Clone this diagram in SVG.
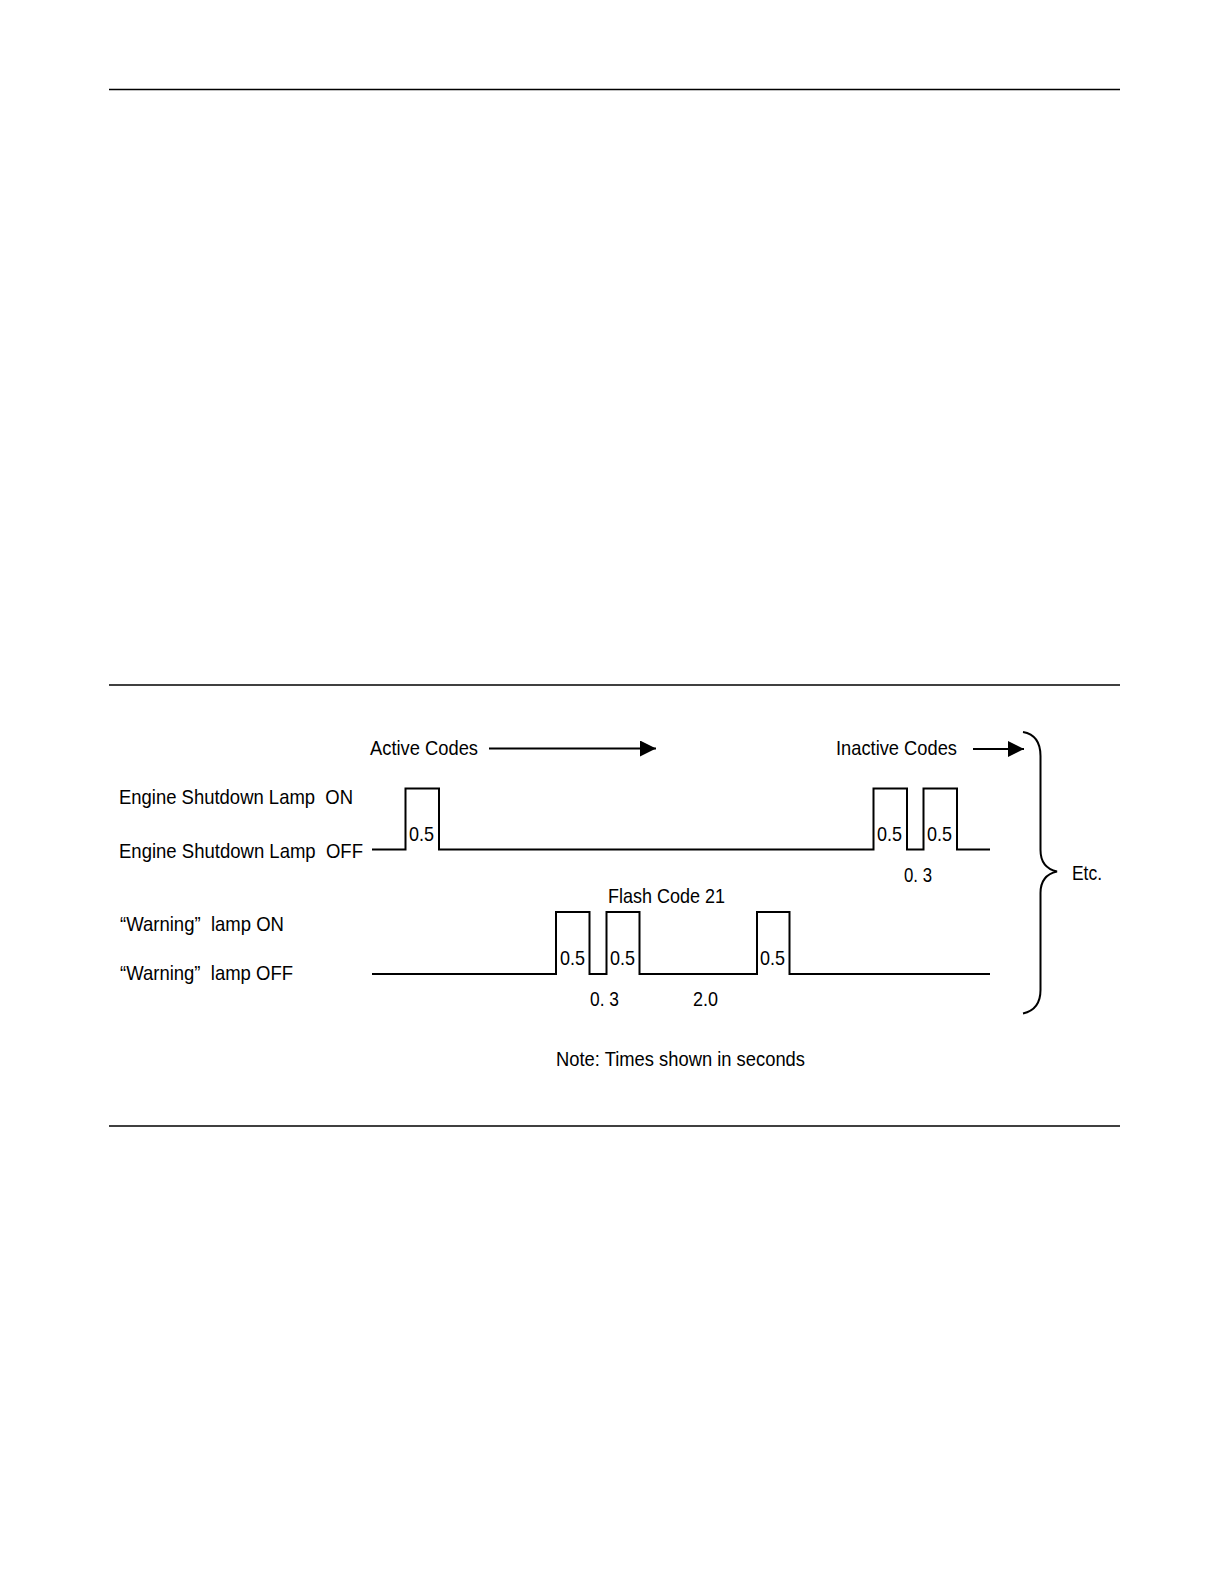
<svg xmlns="http://www.w3.org/2000/svg" width="1224" height="1584" viewBox="0 0 1224 1584">
<style>
text{font-family:"Liberation Sans",Arial,sans-serif;font-size:21px;fill:#000;white-space:pre}
.rule{stroke:#000;stroke-width:1.4}
.sig{fill:none;stroke:#000;stroke-width:2}
.arr{stroke:#000;stroke-width:2}
</style>
<defs>
<marker id="ah" markerWidth="16" markerHeight="16" refX="16" refY="8" orient="auto" markerUnits="userSpaceOnUse">
<path d="M0,0 L16,8 L0,16 Z" fill="#000"/>
</marker>
</defs>
<rect width="1224" height="1584" fill="#fff"/>
<g id="rules">
<line class="rule" x1="109" y1="89.5" x2="1120" y2="89.5"/>
<line class="rule" x1="109" y1="685" x2="1120" y2="685"/>
<line class="rule" x1="109" y1="1126" x2="1120" y2="1126"/>
</g>
<g id="labels">
<text xml:space="preserve" x="119" y="804" textLength="234" lengthAdjust="spacingAndGlyphs">Engine Shutdown Lamp  ON</text>
<text xml:space="preserve" x="119" y="858" textLength="244" lengthAdjust="spacingAndGlyphs">Engine Shutdown Lamp  OFF</text>
<text xml:space="preserve" x="120" y="931" textLength="164" lengthAdjust="spacingAndGlyphs">“Warning”  lamp ON</text>
<text xml:space="preserve" x="120" y="980" textLength="173" lengthAdjust="spacingAndGlyphs">“Warning”  lamp OFF</text>
</g>
<g id="connectors">
<line class="arr" x1="489" y1="748.5" x2="656" y2="748.5" marker-end="url(#ah)"/>
<line class="arr" x1="973" y1="749" x2="1024" y2="749" marker-end="url(#ah)"/>
</g>
<g id="active-codes">
<text x="370" y="755" textLength="108" lengthAdjust="spacingAndGlyphs">Active Codes</text>
</g>
<g id="inactive-codes">
<text x="836" y="755" textLength="121" lengthAdjust="spacingAndGlyphs">Inactive Codes</text>
</g>
<g id="shutdown-signal">
<path class="sig" d="M372,849.5 H405.5 V788.5 H439 V849.5 H873.5 V788.5 H907 V849.5 H923.5 V788.5 H957 V849.5 H990"/>
<text x="409" y="841" textLength="25" lengthAdjust="spacingAndGlyphs">0.5</text>
<text x="877" y="841" textLength="25" lengthAdjust="spacingAndGlyphs">0.5</text>
<text x="927" y="841" textLength="25" lengthAdjust="spacingAndGlyphs">0.5</text>
<text xml:space="preserve" x="904" y="882" textLength="28" lengthAdjust="spacingAndGlyphs">0. 3</text>
</g>
<g id="warning-signal">
<path class="sig" d="M372,974 H556 V912 H589.5 V974 H606.5 V912 H639.5 V974 H757 V912 H789.5 V974 H990"/>
<text x="608" y="903" textLength="117" lengthAdjust="spacingAndGlyphs">Flash Code 21</text>
<text x="560" y="965" textLength="25" lengthAdjust="spacingAndGlyphs">0.5</text>
<text x="610" y="965" textLength="25" lengthAdjust="spacingAndGlyphs">0.5</text>
<text x="760" y="965" textLength="25" lengthAdjust="spacingAndGlyphs">0.5</text>
<text xml:space="preserve" x="590" y="1006" textLength="29" lengthAdjust="spacingAndGlyphs">0. 3</text>
<text x="693" y="1006" textLength="25" lengthAdjust="spacingAndGlyphs">2.0</text>
</g>
<g id="etc-brace">
<path class="sig" stroke-width="1.6" d="M1023,732 C1034,734 1040.5,742 1040.5,756 V850 C1040.5,862 1046,869 1057,871.5 C1046,874 1040.5,881 1040.5,893 V990 C1040.5,1004 1034,1011 1023,1013.5"/>
<text x="1072" y="880" textLength="30" lengthAdjust="spacingAndGlyphs">Etc.</text>
</g>
<g id="note">
<text x="556" y="1066" textLength="249" lengthAdjust="spacingAndGlyphs">Note: Times shown in seconds</text>
</g>
</svg>
